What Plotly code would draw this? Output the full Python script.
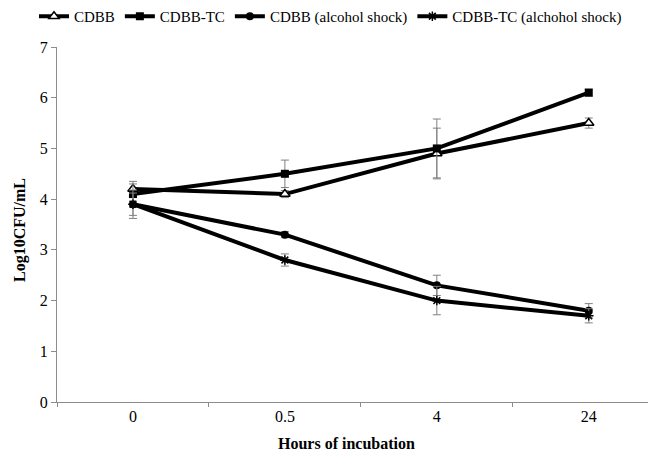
import plotly.graph_objects as go

hours = ["0", "0.5", "4", "24"]

cdbb = [4.2, 4.1, 4.9, 5.5]
cdbb_err = [0.15, 0.07, 0.5, 0.1]

cdbb_tc = [4.1, 4.5, 5.0, 6.1]
cdbb_tc_err = [0.2, 0.27, 0.58, 0.07]

cdbb_alc = [3.9, 3.3, 2.3, 1.8]
cdbb_alc_err = [0.22, 0.06, 0.2, 0.14]

cdbb_tc_alc = [3.9, 2.8, 2.0, 1.7]
cdbb_tc_alc_err = [0.28, 0.12, 0.28, 0.14]

names = ["CDBB", "CDBB-TC", "CDBB (alcohol shock)", "CDBB-TC (alchohol shock)"]

FONT = "Liberation Serif"

fig = go.Figure()

series = [
    (names[0], cdbb, cdbb_err, dict(symbol="triangle-up", size=9, color="white", line=dict(color="black", width=1.5))),
    (names[1], cdbb_tc, cdbb_tc_err, dict(symbol="square", size=8, color="black", line=dict(color="black", width=0))),
    (names[2], cdbb_alc, cdbb_alc_err, dict(symbol="circle", size=8, color="black", line=dict(color="black", width=0))),
    (names[3], cdbb_tc_alc, cdbb_tc_alc_err, dict(symbol="asterisk-open", size=8, color="black", line=dict(color="black", width=1.5))),
]

for name, vals, errs, mk in series:
    fig.add_trace(go.Scatter(
        x=hours, y=vals, name=name, mode="lines+markers",
        line=dict(color="black", width=4),
        marker=mk,
        error_y=dict(type="data", array=errs, visible=True, color="#808080", thickness=1, width=4),
    ))

plot_w = 648 - 57
plot_h = 453 - 47 - 51

fig.update_layout(
    width=648, height=453,
    margin=dict(l=57, r=0, t=47, b=51, autoexpand=False),
    paper_bgcolor="white", plot_bgcolor="white",
    font=dict(family=FONT, size=16, color="black"),
    showlegend=True,
    legend=dict(orientation="h", x=34 / 648, xanchor="left", xref="container",
                y=1.0, yanchor="top", yref="container",
                font=dict(family=FONT, size=15, color="black"),
                bgcolor="rgba(0,0,0,0)", itemwidth=30, tracegroupgap=0,
                borderwidth=0),
    xaxis=dict(type="category", range=[-0.5, 3.39], showgrid=False, zeroline=False,
               showline=True, linecolor="#8c8c8c", linewidth=1, automargin=False,
               ticks="outside", tickson="boundaries", ticklen=4, tickcolor="#8c8c8c",
               tickfont=dict(family=FONT, size=16, color="black")),
    yaxis=dict(range=[0, 7], dtick=1, showgrid=False, zeroline=False,
               showline=True, linecolor="#8c8c8c", linewidth=1, automargin=False,
               ticks="outside", ticklen=5, tickcolor="#8c8c8c",
               tickfont=dict(family=FONT, size=16, color="black")),
    annotations=[
        dict(text="<b>Hours of incubation</b>", x=(346 - 57) / plot_w, y=-(443 - 402) / plot_h,
             xref="paper", yref="paper", xanchor="center", yanchor="middle",
             showarrow=False, font=dict(family=FONT, size=16, color="black")),
        dict(text="<b>Log10CFU/mL</b>", x=(20 - 57) / plot_w, y=(402 - 230) / plot_h,
             xref="paper", yref="paper", xanchor="center", yanchor="middle",
             textangle=-90, showarrow=False,
             font=dict(family=FONT, size=16, color="black")),
    ],
)

fig.write_html("out.html")
